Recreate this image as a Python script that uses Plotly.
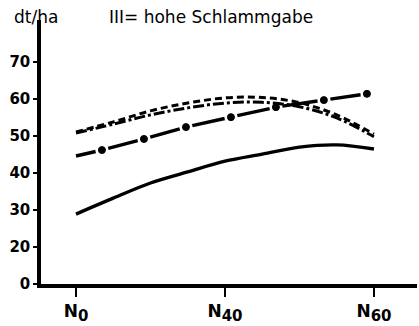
import math
import plotly.graph_objects as go

# Nitrogen levels on the x axis (0 = N0, 1 = N40, 2 = N60)
x_tickvals = [0, 1, 2]
x_ticktext = ["N<sub><span style='font-size:15px'>0</span></sub>",
              "N<sub><span style='font-size:15px'>40</span></sub>",
              "N<sub><span style='font-size:15px'>60</span></sub>"]

# broken y axis: the lowest tick stands for 0
y_tickvals = [10, 20, 30, 40, 50, 60, 70]
y_ticktext = ["0", "20", "30", "40", "50", "60", "70"]

# yield curves (dt/ha) sampled along the N axis
curve_x = [0, 0.25, 0.5, 0.75, 1.0, 1.25, 1.5, 1.75, 2.0]
yield_solid = [28.9, 33.2, 37.3, 40.3, 43.2, 45.1, 47.0, 47.6, 46.5]
yield_short_dash = [51.1, 53.8, 56.8, 58.9, 60.3, 60.4, 59.0, 55.7, 50.5]
yield_dash_dot = [50.8, 53.2, 55.7, 57.6, 58.9, 59.1, 57.9, 54.9, 49.8]

# dotted-dash curve: start point followed by its round dots
dots_x = [0, 0.174, 0.456, 0.738, 1.040, 1.342, 1.664, 1.953]
yield_dotted = [44.6, 46.2, 49.2, 52.4, 55.1, 57.8, 59.7, 61.4]

W, H = 419, 326
M = dict(l=41, r=2, t=20, b=42)
X_RANGE = [-0.235, 2.289]
Y_RANGE = [10, 81.35]

px_x = (W - M["l"] - M["r"]) / (X_RANGE[1] - X_RANGE[0])
px_y = (H - M["t"] - M["b"]) / (Y_RANGE[1] - Y_RANGE[0])

# dash pattern for the dotted curve: gaps centred on each dot
gap = 13
arc = [0.0]
for i in range(1, len(dots_x)):
    dx = (dots_x[i] - dots_x[i - 1]) * px_x
    dy = (yield_dotted[i] - yield_dotted[i - 1]) * px_y
    arc.append(arc[-1] + math.hypot(dx, dy))
pattern = []
pos = 0.0
for a in arc[1:]:
    start = a - gap / 2
    pattern += [start - pos, gap]
    pos = start + gap
dash_dotted = ",".join(f"{v:.1f}px" for v in pattern)

LW = 3.4
fig = go.Figure()
fig.add_trace(go.Scatter(x=curve_x, y=yield_solid, mode="lines",
                         line=dict(color="black", width=LW, shape="spline")))
fig.add_trace(go.Scatter(x=curve_x, y=yield_short_dash, mode="lines",
                         line=dict(color="black", width=3, shape="spline",
                                   dash="7px,4px")))
fig.add_trace(go.Scatter(x=curve_x, y=yield_dash_dot, mode="lines",
                         line=dict(color="black", width=3, shape="spline",
                                   dash="11px,3px,3px,3px")))
fig.add_trace(go.Scatter(x=dots_x, y=yield_dotted, mode="lines",
                         line=dict(color="black", width=LW, dash=dash_dotted)))
fig.add_trace(go.Scatter(x=dots_x[1:], y=yield_dotted[1:], mode="markers",
                         marker=dict(color="#000000", size=7, opacity=1,
                                     line=dict(color="#000000", width=1))))

FONT = "DejaVu Sans"
fig.update_layout(
    width=W, height=H, margin=M,
    paper_bgcolor="white", plot_bgcolor="white",
    showlegend=False,
    font=dict(family=FONT, color="black", size=16),
    xaxis=dict(range=X_RANGE, tickvals=x_tickvals, ticktext=x_ticktext,
               showgrid=False, zeroline=False, showline=True,
               linecolor="black", linewidth=3.5,
               ticks="outside", ticklen=9, tickwidth=2, tickcolor="black",
               tickfont=dict(size=17, weight="bold")),
    yaxis=dict(range=Y_RANGE, tickvals=y_tickvals, ticktext=y_ticktext,
               showgrid=False, zeroline=False, showline=True,
               linecolor="black", linewidth=3.5,
               ticks="outside", ticklen=4, tickwidth=2, tickcolor="black",
               tickfont=dict(size=15, weight="bold")),
    annotations=[
        dict(text="dt/ha", xref="paper", yref="paper",
             x=(12 - M["l"]) / (W - M["l"] - M["r"]),
             y=1 + 3 / (H - M["t"] - M["b"]),
             xanchor="left", yanchor="middle", showarrow=False,
             font=dict(size=17)),
        dict(text="III= hohe Schlammgabe", xref="paper", yref="paper",
             x=(107 - M["l"]) / (W - M["l"] - M["r"]),
             y=1 + 3 / (H - M["t"] - M["b"]),
             xanchor="left", yanchor="middle", showarrow=False,
             font=dict(size=17)),
    ],
)

fig.write_html("out.html")
